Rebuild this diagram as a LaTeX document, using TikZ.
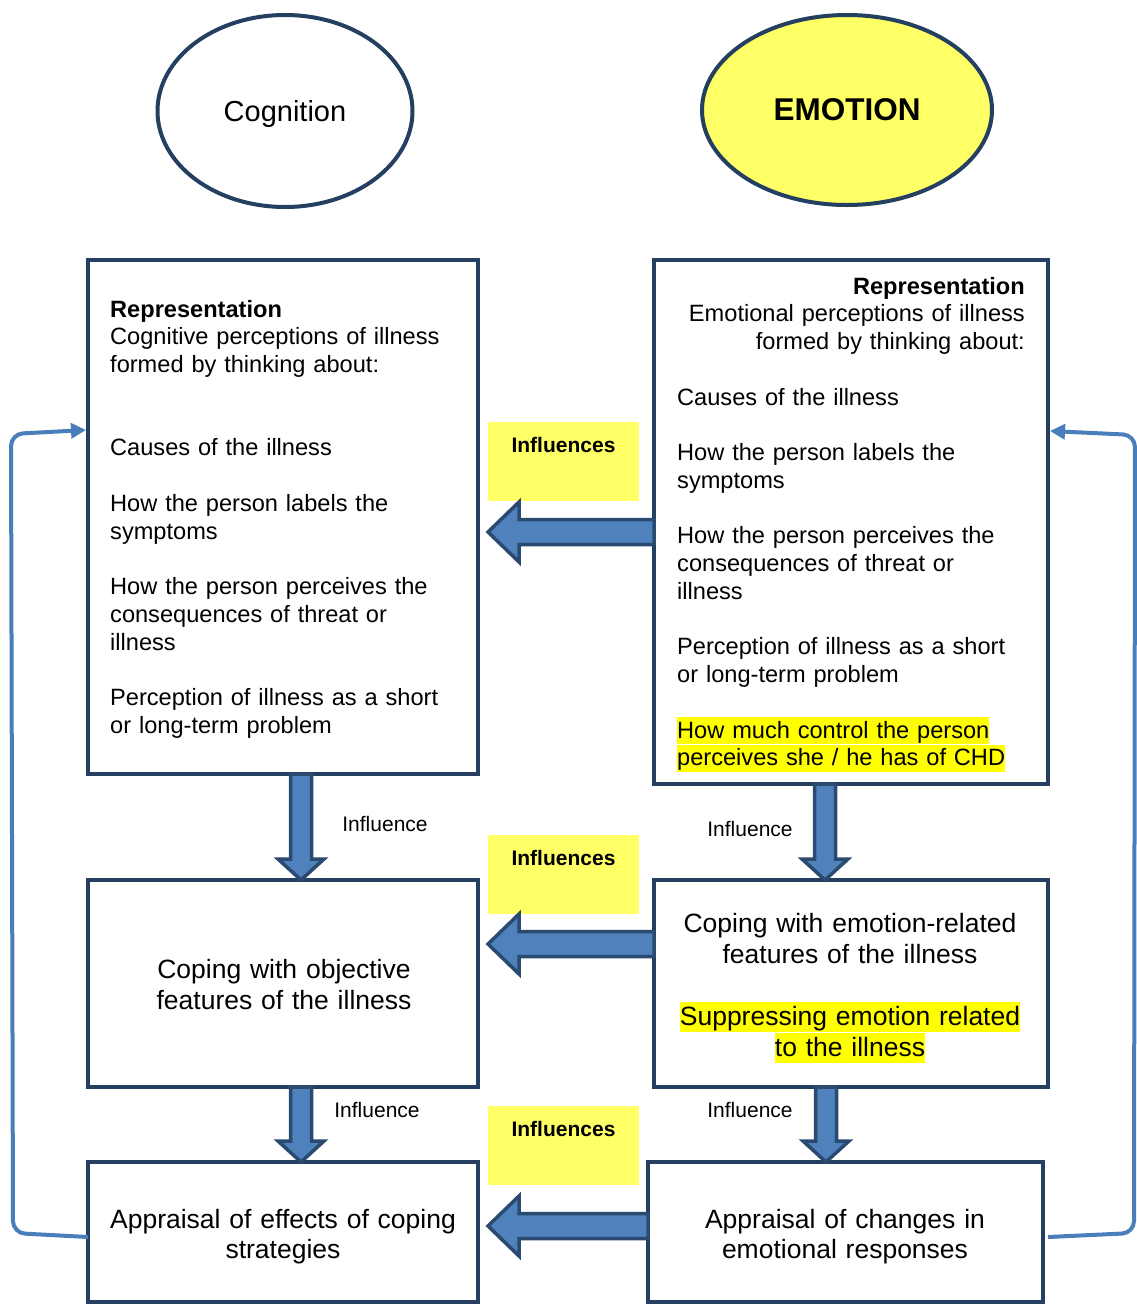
\documentclass[tikz,border=0pt]{standalone}
\usepackage{fontspec}
\setmainfont{Liberation Sans}
\usetikzlibrary{shapes.geometric,calc,arrows.meta}

\definecolor{navy}{HTML}{243F60}
\definecolor{arrowfill}{HTML}{4F81BD}
\definecolor{arrowline}{HTML}{2B4A70}
\definecolor{loopline}{HTML}{4A7EBB}
\definecolor{paleyellow}{HTML}{FFFF66}
\definecolor{hlyellow}{HTML}{FFFF00}

% strut that fixes the top of a text block relative to its first baseline
\newcommand\mystrut{\vrule height .85em depth 0pt width 0pt}
% highlighted line of text
\newcommand\hlt[1]{{\setlength{\fboxsep}{0pt}\colorbox{hlyellow}{\vrule height .9em depth .24em width 0pt #1}}}

% horizontal block arrow: from #1 to the tip #2 (pointing left)
\newcommand\harrow[2]{\draw[blockarrow] let \p1=(#1), \p2=(#2) in
  (\x1,\y1+12.5pt) -- (\x2+31pt,\y1+12.5pt) -- (\x2+31pt,\y1+30pt) -- (\x2,\y1)
  -- (\x2+31pt,\y1-30pt) -- (\x2+31pt,\y1-12.5pt) -- (\x1,\y1-12.5pt) -- cycle;}
% vertical block arrow: from #1 down to the tip #2
\newcommand\varrow[2]{\draw[blockarrow] let \p1=(#1), \p2=(#2) in
  (\x1-10.5pt,\y1) -- (\x1-10.5pt,\y2+21pt) -- (\x1-23pt,\y2+21pt) -- (\x1,\y2)
  -- (\x1+23pt,\y2+21pt) -- (\x1+10.5pt,\y2+21pt) -- (\x1+10.5pt,\y1) -- cycle;}

\begin{document}
\begin{tikzpicture}[x=1pt,y=-1pt,
  box/.style={draw=navy, line width=4.5pt, fill=white, inner sep=0pt, outer sep=0pt, anchor=north west},
  bubble/.style={ellipse, draw=navy, line width=4pt, inner sep=0pt},
  blockarrow/.style={fill=arrowfill, draw=arrowline, line width=3.5pt, line join=miter},
  loop/.style={draw=loopline, line width=4pt, rounded corners=12pt, -{Triangle[length=15pt,width=15pt]}},
  infbox/.style={fill=paleyellow, inner sep=0pt, minimum width=151, minimum height=79},
  inftext/.style={font=\bfseries\fontsize{21}{25}\selectfont, anchor=base, inner sep=0pt},
  lbl/.style={font=\fontsize{21}{25}\selectfont, inner sep=0pt},
  small/.style={font=\fontsize{23.6}{27.75}\selectfont, inner sep=0pt, text width=360, align=left},
  big/.style={font=\fontsize{26.5}{31}\selectfont, inner sep=0pt, text width=390, align=center, anchor=north}]

\useasboundingbox (0,0) rectangle (1137,1304);

% top ellipses
\node[bubble, minimum width=255, minimum height=192, font=\fontsize{29}{34}\selectfont,
      text height=20.5pt, text depth=0pt] (cog) at (285,111) {Cognition};
\node[bubble, fill=paleyellow, minimum width=290, minimum height=190, font=\bfseries\fontsize{31.5}{36}\selectfont] (emo) at (847,110) {EMOTION};

% boxes
\node[box, minimum width=390, minimum height=514] (crep)  at (88,260) {};
\node[box, minimum width=394, minimum height=524] (erep)  at (654,260) {};
\node[box, minimum width=390, minimum height=207] (ccope) at (88,880) {};
\node[box, minimum width=394, minimum height=207] (ecope) at (654,880) {};
\node[box, minimum width=390, minimum height=140] (capp)  at (88,1162) {};
\node[box, minimum width=395, minimum height=140] (eapp)  at (648,1162) {};

% cognitive representation
\node[small, anchor=north west] (ctext) at (110,296.9) {\mystrut\textbf{Representation}\\
Cognitive perceptions of illness\\formed by thinking about:\\\mbox{}\\\mbox{}\\
Causes of the illness\\\mbox{}\\
How the person labels the\\symptoms\\\mbox{}\\
How the person perceives the\\consequences of threat or\\illness\\\mbox{}\\
Perception of illness as a short\\or long-term problem};

% emotional representation
\node[small, anchor=north east, align=right] (ehead) at (1025,273.9) {\mystrut\textbf{Representation}\\
Emotional perceptions of illness\\formed by thinking about:};
\node[small, anchor=north west] (etext) at (677,384.9) {\mystrut Causes of the illness\\\mbox{}\\
How the person labels the\\symptoms\\\mbox{}\\
How the person perceives the\\consequences of threat or\\illness\\\mbox{}\\
Perception of illness as a short\\or long-term problem\\\mbox{}\\
\hlt{How much control the person}\\\hlt{perceives she / he has of CHD}};

% coping
\node[big] (ccopetext) at (284,956) {\mystrut Coping with objective\\features of the illness};
\node[big] (ecopetext) at (850,910) {\mystrut Coping with emotion-related\\features of the illness\\\mbox{}\\
\hlt{Suppressing emotion related}\\\hlt{to the illness}};

% appraisal
\node[big, font=\fontsize{26.5}{30}\selectfont] (capptext) at (283,1206) {\mystrut Appraisal of effects of coping\\strategies};
\node[big, font=\fontsize{26.5}{30}\selectfont] (eapptext) at (845,1206) {\mystrut Appraisal of changes in\\emotional responses};

% influence labels
\node[infbox] (inf1) at (563.5,461.5) {};
\node[infbox] (inf2) at (563.5,874) {};
\node[infbox] (inf3) at (563.5,1145) {};
\node[inftext] (inf1t) at (563.5,452.5) {Influences};
\node[inftext] (inf2t) at (563.5,865.5) {Influences};
\node[inftext] (inf3t) at (563.5,1136.5) {Influences};

\node[lbl] (l1) at (385,824) {Influence};
\node[lbl] (l2) at (750,829) {Influence};
\node[lbl] (l3) at (377,1110) {Influence};
\node[lbl] (l4) at (750,1110) {Influence};

% horizontal block arrows (emotion side to cognition side)
\coordinate (h1s) at ($(erep.north west)+(0,272)$);
\coordinate (h1e) at ($(crep.north east)+(10,272)$);
\coordinate (h2s) at ($(ecope.north west)+(0,64)$);
\coordinate (h2e) at ($(ccope.north east)+(10,64)$);
\coordinate (h3s) at ($(eapp.north west)+(0,64)$);
\coordinate (h3e) at ($(capp.north east)+(10,64)$);
\harrow{h1s}{h1e}
\harrow{h2s}{h2e}
\harrow{h3s}{h3e}

% vertical block arrows
\coordinate (v1s) at ($(crep.south west)+(213,0)$);
\coordinate (v1e) at (v1s |- ccope.north);
\coordinate (v2s) at ($(erep.south west)+(171,0)$);
\coordinate (v2e) at (v2s |- ecope.north);
\coordinate (v3s) at ($(ccope.south west)+(213,0)$);
\coordinate (v3e) at (v3s |- capp.north);
\coordinate (v4s) at ($(ecope.south west)+(172,0)$);
\coordinate (v4e) at (v4s |- eapp.north);
\varrow{v1s}{v1e}
\varrow{v2s}{v2e}
\varrow{v3s}{v3e}
\varrow{v4s}{v4e}

% feedback loops from appraisal back to representation
\coordinate (fl1) at ($(capp.north west)+(0,75)$);
\coordinate (fl2) at ($(crep.north west)+(-2,170)$);
\draw[loop] (fl1) -- ($(fl1)+(-75,-4)$) -- ($(fl2)+(-75,4)$) -- (fl2);
\coordinate (fr1) at ($(eapp.north east)+(5,75)$);
\coordinate (fr2) at ($(erep.north east)+(2,171)$);
\draw[loop] (fr1) -- ($(fr1)+(86,-4)$) -- ($(fr2)+(85,4)$) -- (fr2);

\end{tikzpicture}
\end{document}
